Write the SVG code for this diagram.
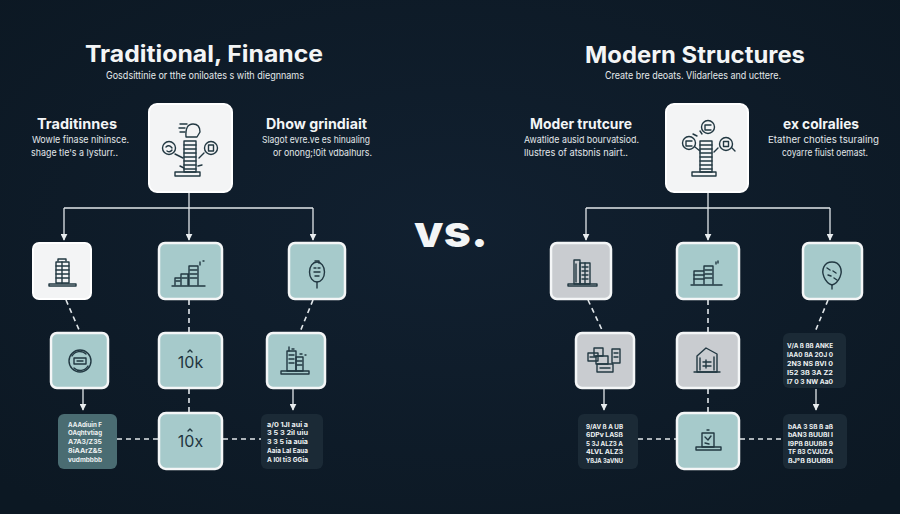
<svg xmlns="http://www.w3.org/2000/svg" width="900" height="514" viewBox="0 0 900 514">
<defs>
  <radialGradient id="bg" cx="50%" cy="45%" r="70%">
    <stop offset="0" stop-color="#112030"/>
    <stop offset="1" stop-color="#0c1823"/>
  </radialGradient>
  <marker id="arr" viewBox="0 0 10 10" refX="9" refY="5" markerWidth="7" markerHeight="7" orient="auto" markerUnits="userSpaceOnUse">
    <path d="M0,0 L10,5 L0,10 Z" fill="#e8ecee"/>
  </marker>
  <style>
    .title{font-family:Inter,"Liberation Sans",sans-serif;font-weight:700;fill:#f3f5f6}
    .sub{font-family:Inter,"Liberation Sans",sans-serif;font-size:10.5px;fill:#e6eaec}
    .head{font-family:Inter,"Liberation Sans",sans-serif;font-weight:700;font-size:14px;fill:#f3f5f6}
    .body{font-family:Inter,"Liberation Sans",sans-serif;font-size:9.5px;fill:#e2e7ea}
    .vs{font-family:Inter,"Liberation Sans",sans-serif;font-weight:800;font-size:44px;fill:#f3f5f6}
    .num{font-family:Inter,"Liberation Sans",sans-serif;font-size:16px;fill:#1f3540}
    .tiny{font-family:Inter,"Liberation Sans",sans-serif;font-weight:700;font-size:6.5px;fill:#eef2f3}
    .nW{fill:#f3f4f5;stroke:#ffffff;stroke-width:2}
    .nT{fill:#a6cacb;stroke:#f4f6f7;stroke-width:2.5}
    .nG{fill:#c9ccd0;stroke:#f4f6f7;stroke-width:2.5}
    .nD{fill:#1b2a36}
    .nL{fill:#4a6c72}
    .ic{fill:none;stroke:#223842;stroke-width:1.4;stroke-linecap:round;stroke-linejoin:round}
    .solid{fill:none;stroke:#e2e7ea;stroke-width:1.3}
    .dash{fill:none;stroke:#e2e7ea;stroke-width:1.6;stroke-dasharray:5 4}
  </style>
</defs>
<rect width="900" height="514" fill="url(#bg)"/>

<!-- Headers -->
<g id="left-header">
  <text class="title" x="85" y="62" font-size="23" textLength="238" lengthAdjust="spacingAndGlyphs">Traditional, Finance</text>
  <text class="sub" x="106" y="79" textLength="198" lengthAdjust="spacingAndGlyphs">Gosdsittinie or tthe oniloates s with diegnnams</text>
</g>
<g id="right-header">
  <text class="title" x="585" y="63" font-size="23" textLength="220" lengthAdjust="spacingAndGlyphs">Modern Structures</text>
  <text class="sub" x="605" y="79" textLength="176" lengthAdjust="spacingAndGlyphs">Create bre deoats. Vlidarlees and ucttere.</text>
</g>
<g id="left-notes">
  <text class="head" x="37" y="129" textLength="80" lengthAdjust="spacingAndGlyphs">Traditinnes</text>
  <text class="body" x="32" y="143" textLength="97" lengthAdjust="spacingAndGlyphs">Wowle finase nihinsce.</text>
  <text class="body" x="31" y="156" textLength="87" lengthAdjust="spacingAndGlyphs">shage tle's a lysturr..</text>
  <text class="head" x="266" y="129" textLength="101" lengthAdjust="spacingAndGlyphs">Dhow grindiait</text>
  <text class="body" x="262" y="143" textLength="108" lengthAdjust="spacingAndGlyphs">Slagot evre.ve es hinualing</text>
  <text class="body" x="273" y="156" textLength="99" lengthAdjust="spacingAndGlyphs">or onong;!0it vdbalhurs.</text>
</g>
<g id="right-notes">
  <text class="head" x="530" y="129" textLength="102" lengthAdjust="spacingAndGlyphs">Moder trutcure</text>
  <text class="body" x="524" y="143" textLength="115" lengthAdjust="spacingAndGlyphs">Awatlide ausid bourvatsiod.</text>
  <text class="body" x="524" y="156" textLength="104" lengthAdjust="spacingAndGlyphs">llustres of atsbnis nairt..</text>
  <text class="head" x="783" y="129" textLength="76" lengthAdjust="spacingAndGlyphs">ex colralies</text>
  <text class="body" x="768" y="143" textLength="111" lengthAdjust="spacingAndGlyphs">Etather choties tsuraling</text>
  <text class="body" x="782" y="156" textLength="86" lengthAdjust="spacingAndGlyphs">coyarre fiuist oemast.</text>
</g>
<g id="vs">
  <text class="vs" x="414" y="247" textLength="74" lengthAdjust="spacingAndGlyphs">vs.</text>
</g>

<!-- Connectors -->
<g id="connectors">
  <path class="solid" d="M189,192 V208"/>
  <path class="solid" d="M64,208 H313"/>
  <path class="solid" d="M64,208 V240" marker-end="url(#arr)"/>
  <path class="solid" d="M189,208 V240" marker-end="url(#arr)"/>
  <path class="solid" d="M313,208 V240" marker-end="url(#arr)"/>
  <path class="dash" d="M66,300 L80,332"/>
  <path class="dash" d="M189,300 V332"/>
  <path class="dash" d="M313,300 L300,332"/>
  <path class="solid" d="M83,389 V410" marker-end="url(#arr)"/>
  <path class="dash" d="M189,389 V412"/>
  <path class="solid" d="M293,389 V410" marker-end="url(#arr)"/>
  <path class="dash" d="M117,439 H158"/>
  <path class="dash" d="M223,439 H261"/>
  <path class="solid" d="M708,192 V208"/>
  <path class="solid" d="M586,208 H830"/>
  <path class="solid" d="M586,208 V240" marker-end="url(#arr)"/>
  <path class="solid" d="M708,208 V240" marker-end="url(#arr)"/>
  <path class="solid" d="M830,208 V240" marker-end="url(#arr)"/>
  <path class="dash" d="M588,300 L603,332"/>
  <path class="dash" d="M708,300 V332"/>
  <path class="dash" d="M828,300 L815,332"/>
  <path class="solid" d="M604,389 V410" marker-end="url(#arr)"/>
  <path class="dash" d="M708,389 V412"/>
  <path class="solid" d="M816,389 V410" marker-end="url(#arr)"/>
  <path class="dash" d="M638,439 H677"/>
  <path class="dash" d="M740,439 H783"/>
</g>

<!-- LEFT NODES -->
<g id="L-top">
  <rect class="nW" x="149" y="104" width="83" height="88" rx="8"/>
  <g class="ic">
    <rect x="184" y="141" width="12" height="31"/>
    <path d="M184,145 H196 M184,149 H196 M184,153 H196 M184,157 H196 M184,161 H196 M184,165 H196 M184,169 H196"/>
    <path d="M180,172 H200 V176 H175 V172 Z"/>
    <circle cx="169" cy="148" r="6.5"/>
    <path d="M166,147 Q169,144 172,148 M167,151 Q170,153 172,150"/>
    <circle cx="211" cy="148" r="6.5"/>
    <rect x="208.5" y="145" width="5" height="6"/>
    <path d="M186,137 Q185,124 193,124 Q200,124 200,132 L197,137 Z"/>
    <path d="M180,124 H187 M179,128 H185 M180,132 H185"/>
    <path d="M175,154 L183,158 M204,153 L199,158 M180,166 L184,168 M198,166 L202,165"/>
  </g>
</g>
<g id="L-r2a">
  <rect class="nW" x="33" y="243" width="58" height="56" rx="6"/>
  <g class="ic">
    <rect x="56" y="262" width="13" height="21"/>
    <path d="M58,261 V259 H66 V261 M56,266 H69 M56,270 H69 M56,274 H69 M56,278 H69 M62,262 V283"/>
    <path d="M49,284 H76 V286 H49 Z"/>
  </g>
</g>
<g id="L-r2b">
  <rect class="nT" x="159" y="243" width="63" height="56" rx="6"/>
  <g class="ic">
    <path d="M175,285 V278 H181 V285 M181,285 V274 H188 V285 M189,285 V266 H198 V285"/>
    <path d="M190,270 H197 M190,274 H197 M190,278 H197 M182,278 H187 M176,281 H180"/>
    <path d="M172,286 H205"/>
    <path d="M200,262 V265 M203,261 H204"/>
  </g>
</g>
<g id="L-r2c">
  <rect class="nT" x="289" y="243" width="56" height="56" rx="6"/>
  <g class="ic">
    <ellipse cx="317" cy="272" rx="7.5" ry="10"/>
    <path d="M315,261 H319 V263 M314,268 H316 M318,268 H320 M314,272 H320 M315,276 H319 M317,282 V288"/>
  </g>
</g>
<g id="L-r3a">
  <rect class="nT" x="51" y="333" width="57" height="55" rx="6"/>
  <g class="ic">
    <circle cx="80" cy="361" r="11"/>
    <path d="M72,356 A9,9 0 0 1 86,354 M88,366 A9,9 0 0 1 74,368"/>
    <rect x="74" y="358" width="12" height="6"/>
    <path d="M77,361 H83"/>
  </g>
</g>
<g id="L-r3b">
  <rect class="nT" x="159" y="333" width="63" height="55" rx="6"/>
  <text class="num" x="190.5" y="368" text-anchor="middle">10k</text>
  <path class="ic" d="M188,352 L190,350 L192,352"/>
</g>
<g id="L-r3c">
  <rect class="nT" x="267" y="333" width="58" height="55" rx="6"/>
  <g class="ic">
    <rect x="287" y="351" width="9" height="20"/>
    <rect x="296" y="357" width="7" height="14"/>
    <path d="M289,355 H294 M289,359 H294 M289,363 H294 M297,361 H302 M297,365 H302 M289,351 V347 M292,349 H294 M300,354 H302 M305,355 H306"/>
    <path d="M281,371 H309 V374 H281 Z"/>
  </g>
</g>
<g id="L-r4a">
  <rect class="nL" x="58" y="414" width="59" height="55" rx="6"/>
  <text class="tiny" x="68" y="427" textLength="34" lengthAdjust="spacingAndGlyphs">AAAdiuin F</text>
  <text class="tiny" x="68" y="435" textLength="34" lengthAdjust="spacingAndGlyphs">OAqhtvtiag</text>
  <text class="tiny" x="68" y="444" textLength="34" lengthAdjust="spacingAndGlyphs">A7A3/Z35</text>
  <text class="tiny" x="68" y="453" textLength="34" lengthAdjust="spacingAndGlyphs">8iAArZ&amp;5</text>
  <text class="tiny" x="68" y="462" textLength="34" lengthAdjust="spacingAndGlyphs">vudmbbbb</text>
</g>
<g id="L-r4b">
  <rect class="nT" x="159" y="413" width="63" height="56" rx="7" stroke-width="3"/>
  <text class="num" x="190.5" y="447" text-anchor="middle">10x</text>
  <path class="ic" d="M188,431 L190,429 L192,431"/>
</g>
<g id="L-r4c">
  <rect class="nD" x="261" y="414" width="62" height="55" rx="6"/>
  <text class="tiny" x="267" y="427" textLength="41" lengthAdjust="spacingAndGlyphs">a/0 1JI aui a</text>
  <text class="tiny" x="267" y="435" textLength="41" lengthAdjust="spacingAndGlyphs">3 5 3 2il uiu</text>
  <text class="tiny" x="267" y="444" textLength="41" lengthAdjust="spacingAndGlyphs">3 3 5 ia auia</text>
  <text class="tiny" x="267" y="453" textLength="41" lengthAdjust="spacingAndGlyphs">Aaia Lal Eaua</text>
  <text class="tiny" x="267" y="462" textLength="41" lengthAdjust="spacingAndGlyphs">A I0l ti3 GGia</text>
</g>

<!-- RIGHT NODES -->
<g id="R-top">
  <rect class="nW" x="666" y="104" width="82" height="88" rx="8"/>
  <g class="ic">
    <rect x="700" y="141" width="12" height="31"/>
    <path d="M700,145 H712 M700,149 H712 M700,153 H712 M700,157 H712 M700,161 H712 M700,165 H712 M700,169 H712"/>
    <path d="M696,172 H716 V176 H692 V172 Z"/>
    <circle cx="689" cy="143" r="6.5"/>
    <path d="M686,141 H692 M686,141 V146 H692"/>
    <circle cx="708" cy="127" r="6.5"/>
    <path d="M705,125 H711 M705,125 V130 H711"/>
    <circle cx="726" cy="144" r="6.5"/>
    <rect x="723.5" y="141.5" width="5" height="5"/>
    <path d="M695,147 L700,151 M700,131 L702,134 M718,148 L714,152 M693,134 L697,136 M732,148 L735,151"/>
  </g>
</g>
<g id="R-r2a">
  <rect class="nG" x="551" y="243" width="60" height="56" rx="6"/>
  <g class="ic">
    <rect x="574" y="260" width="6" height="24"/>
    <rect x="580" y="263" width="10" height="21"/>
    <path d="M582,267 H588 M582,271 H588 M582,275 H588 M582,279 H588 M585,263 V284 M576,264 V282"/>
    <path d="M568,284 H597 V286 H568 Z"/>
  </g>
</g>
<g id="R-r2b">
  <rect class="nT" x="677" y="243" width="62" height="56" rx="6"/>
  <g class="ic">
    <path d="M694,284 V271 H704 V284 M704,284 V266 H713 V284"/>
    <path d="M694,275 H704 M694,279 H704 M705,270 H712 M705,274 H712 M705,278 H712"/>
    <path d="M691,285 H722"/>
    <path d="M716,262 V264 M718,261 V263"/>
  </g>
</g>
<g id="R-r2c">
  <rect class="nT" x="803" y="243" width="59" height="56" rx="6"/>
  <g class="ic">
    <path d="M832,262 C840,262 843,270 840,277 C838,282 835,284 832,285 C829,284 826,282 824,277 C821,270 824,262 832,262 Z"/>
    <path d="M832,285 V289 M827,268 L830,270 M833,271 L836,273 M828,275 L831,276 M834,278 L837,280"/>
  </g>
</g>
<g id="R-r3a">
  <rect class="nG" x="576" y="333" width="58" height="55" rx="6"/>
  <g class="ic">
    <rect x="588" y="353" width="10" height="8"/>
    <rect x="594" y="348" width="9" height="8"/>
    <rect x="596" y="356" width="12" height="8"/>
    <rect x="612" y="349" width="8" height="14"/>
    <rect x="597" y="364" width="16" height="8"/>
    <path d="M590,357 H596 M614,353 H618 M614,357 H618 M600,368 H610"/>
  </g>
</g>
<g id="R-r3b">
  <rect class="nG" x="677" y="333" width="62" height="55" rx="6"/>
  <g class="ic">
    <path d="M697,356 L706,348 L717,354 V372 H697 Z"/>
    <path d="M700,358 V370 M714,357 V370 M703,362 H711 M703,366 H711 M706,360 V368"/>
    <path d="M694,372 H720"/>
  </g>
</g>
<g id="R-r3c">
  <rect class="nD" x="783" y="333" width="63" height="55" rx="6"/>
  <text class="tiny" x="787" y="348" textLength="46" lengthAdjust="spacingAndGlyphs">V/A ß ßß ANKE</text>
  <text class="tiny" x="787" y="357" textLength="46" lengthAdjust="spacingAndGlyphs">IAA0 ßA 2OJ 0</text>
  <text class="tiny" x="787" y="366" textLength="46" lengthAdjust="spacingAndGlyphs">2N3 NS ßVI 0</text>
  <text class="tiny" x="787" y="375" textLength="46" lengthAdjust="spacingAndGlyphs">I52 3ß 3A Z2</text>
  <text class="tiny" x="787" y="384" textLength="46" lengthAdjust="spacingAndGlyphs">I7 0 3 NW Aa0</text>
</g>
<g id="R-r4a">
  <rect class="nD" x="578" y="414" width="60" height="55" rx="6"/>
  <text class="tiny" x="586" y="429" textLength="37" lengthAdjust="spacingAndGlyphs">9/AV ß A UB</text>
  <text class="tiny" x="586" y="437" textLength="37" lengthAdjust="spacingAndGlyphs">6DPv LASß</text>
  <text class="tiny" x="586" y="446" textLength="37" lengthAdjust="spacingAndGlyphs">5 3J ALZ3 A</text>
  <text class="tiny" x="586" y="454" textLength="37" lengthAdjust="spacingAndGlyphs">4LVL ALZ3</text>
  <text class="tiny" x="586" y="463" textLength="37" lengthAdjust="spacingAndGlyphs">YßJA 3aVNU</text>
</g>
<g id="R-r4b">
  <rect class="nT" x="677" y="413" width="62" height="56" rx="7" stroke-width="3"/>
  <g class="ic">
    <rect x="702" y="433" width="12" height="14"/>
    <path d="M705,437 L708,440 L711,436 M705,443 L709,444 M707,430 H709"/>
    <path d="M696,447 H721 V450 H696 Z"/>
  </g>
</g>
<g id="R-r4c">
  <rect class="nD" x="783" y="414" width="64" height="55" rx="6"/>
  <text class="tiny" x="788" y="429" textLength="45" lengthAdjust="spacingAndGlyphs">bAA 3 Sß ß aß</text>
  <text class="tiny" x="788" y="437" textLength="45" lengthAdjust="spacingAndGlyphs">bAN3 ßUUßI I</text>
  <text class="tiny" x="788" y="446" textLength="45" lengthAdjust="spacingAndGlyphs">I9Pß ßUUßß 9</text>
  <text class="tiny" x="788" y="454" textLength="45" lengthAdjust="spacingAndGlyphs">TF ß3 CVJUZA</text>
  <text class="tiny" x="788" y="463" textLength="45" lengthAdjust="spacingAndGlyphs">ßJ°ß ßUUßßI</text>
</g>
</svg>
